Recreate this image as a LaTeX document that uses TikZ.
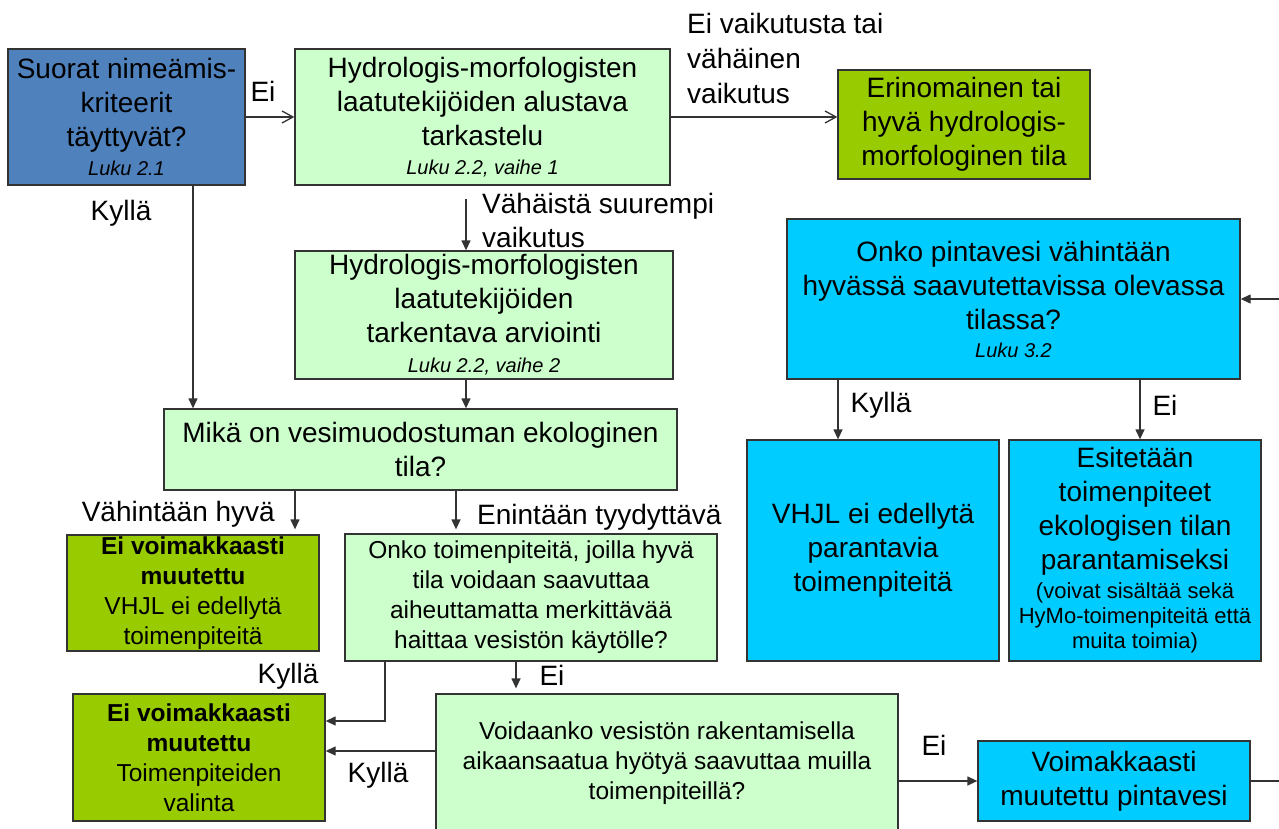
\documentclass[tikz,border=0pt]{standalone}
\usepackage{fontspec}
\setmainfont{Liberation Sans}
\usetikzlibrary{arrows.meta}
\definecolor{bdark}{HTML}{4F81BD}
\definecolor{lgreen}{HTML}{CCFFCC}
\definecolor{ygreen}{HTML}{99CC00}
\definecolor{cyanb}{HTML}{00CCFF}
\definecolor{edgecol}{HTML}{333333}
\newcommand\fbig{\fontsize{28}{34}\selectfont}
\newcommand\fmid{\fontsize{24.5}{30}\selectfont}
\newcommand\fsml{\fontsize{22}{25}\selectfont}
\newcommand\fluku{\fontsize{20}{24}\selectfont\itshape}
\tikzset{
  box/.style={draw=edgecol, line width=1.3pt, inner sep=0pt, align=center, font=\fbig},
  midbox/.style={box, font=\fmid},
  lbl/.style={inner sep=0pt, font=\fbig},
  arr/.style={draw=edgecol, line width=1.3pt, -{Triangle[length=10pt,width=9pt]}},
  oarr/.style={draw=edgecol, line width=1.3pt, -{Straight Barb[length=11pt,width=12pt]}},
  plain/.style={draw=edgecol, line width=1.3pt}
}
\begin{document}
\begin{tikzpicture}[x=1pt,y=-1pt]
\fill[white] (0,0) rectangle (1279,829);
\useasboundingbox (0,0) rectangle (1279,829);

% boxes
\node[box, fill=bdark, minimum width=237pt, minimum height=136pt] (b1) at (126.5,117)
  {Suorat nimeämis-\\kriteerit\\täyttyvät?\\[-5.5pt]{\fluku Luku 2.1}};
\node[box, fill=lgreen, minimum width=375pt, minimum height=136pt] (b2) at (482.5,117)
  {Hydrologis-morfologisten\\laatutekijöiden alustava\\tarkastelu\\[-5.5pt]{\fluku Luku 2.2, vaihe 1}};
\node[box, fill=ygreen, minimum width=252pt, minimum height=109pt] (b3) at (964,124.5)
  {Erinomainen tai\\hyvä hydrologis-\\morfologinen tila};
\node[box, fill=lgreen, minimum width=378pt, minimum height=128pt] (b4) at (484,315)
  {Hydrologis-morfologisten\\laatutekijöiden\\tarkentava arviointi\\[-4pt]{\fluku Luku 2.2, vaihe 2}};
\node[box, fill=lgreen, minimum width=513pt, minimum height=81pt] (b5) at (420.5,449.5)
  {Mikä on vesimuodostuman ekologinen\\tila?};
\node[midbox, fill=ygreen, minimum width=252pt, minimum height=116pt] (b6) at (193,593)
  {\textbf{Ei voimakkaasti}\\\textbf{muutettu}\\VHJL ei edellytä\\toimenpiteitä};
\node[midbox, fill=lgreen, minimum width=372pt, minimum height=127pt] (b7) at (531,597.5)
  {Onko toimenpiteitä, joilla hyvä\\tila voidaan saavuttaa\\aiheuttamatta merkittävää\\haittaa vesistön käytölle?};
\node[midbox, fill=ygreen, minimum width=252pt, minimum height=127pt] (b8) at (199,757.5)
  {\textbf{Ei voimakkaasti}\\\textbf{muutettu}\\Toimenpiteiden\\valinta};
\node[midbox, fill=lgreen, minimum width=462pt, minimum height=138pt] (b9) at (667,763)
  {Voidaanko vesistön rakentamisella\\aikaansaatua hyötyä saavuttaa muilla\\toimenpiteillä?};
\node[box, fill=cyanb, minimum width=453pt, minimum height=160pt] (b10) at (1013.5,299)
  {Onko pintavesi vähintään\\hyvässä saavutettavissa olevassa\\tilassa?\\[-6pt]{\fluku Luku 3.2}};
\node[box, fill=cyanb, minimum width=252pt, minimum height=221pt] (b11) at (873,550.5)
  {VHJL ei edellytä\\parantavia\\toimenpiteitä};
\node[box, fill=cyanb, minimum width=252pt, minimum height=221pt] (b12) at (1135,550.5)
  {Esitetään\\toimenpiteet\\ekologisen tilan\\parantamiseksi\\[-5pt]{\fsml (voivat sisältää sekä}\\[-9pt]{\fsml HyMo-toimenpiteitä että}\\[-9pt]{\fsml muita toimia)}};
\node[box, fill=cyanb, minimum width=272pt, minimum height=80pt] (b13) at (1114,781)
  {Voimakkaasti\\muutettu pintavesi};

% labels
\node[lbl] (l1) at (263,91) {Ei};
\node[lbl] (l2) at (121,213) {Kyllä};
\node[lbl, anchor=west, align=left, font=\fontsize{28}{35}\selectfont] (l3) at (687,58)
  {Ei vaikutusta tai\\vähäinen\\vaikutus};
\node[lbl, anchor=west, align=left] (l4) at (482,220) {Vähäistä suurempi\\vaikutus};
\node[lbl, anchor=east] (l5) at (275,514) {Vähintään hyvä};
\node[lbl, anchor=west] (l6) at (477,517) {Enintään tyydyttävä};
\node[lbl] (l7) at (288,676) {Kyllä};
\node[lbl] (l8) at (552,675) {Ei};
\node[lbl] (l9) at (378,775) {Kyllä};
\node[lbl] (l10) at (934,745) {Ei};
\node[lbl] (l11) at (881,405) {Kyllä};
\node[lbl] (l12) at (1165,405) {Ei};

% reference coordinates
\coordinate (k193) at (193,0);
\coordinate (k466) at (466,0);
\coordinate (k295) at (295,0);
\coordinate (k456) at (456,0);
\coordinate (k385) at (385,0);
\coordinate (k516) at (516,0);
\coordinate (k838) at (838,0);
\coordinate (k1140) at (1140,0);
\coordinate (y721) at (0,721);
\coordinate (y751) at (0,751);
\coordinate (e1) at (1290,781);
\coordinate (e2) at (1290,299);

% connectors
\draw[oarr] (b1) -- (b2);
\draw[oarr] (b2.east) -- (b2.east -| b3.west);
\draw[arr, shorten <=13pt] (k466 |- b2.south) -- (k466 |- b4.north);
\draw[arr] (k193 |- b1.south) -- (k193 |- b5.north);
\draw[arr] (k466 |- b4.south) -- (k466 |- b5.north);
\draw[arr, shorten >=5pt] (k295 |- b5.south) -- (k295 |- b6.north);
\draw[arr, shorten >=4pt] (k456 |- b5.south) -- (k456 |- b7.north);
\draw[arr] (k385 |- b7.south) |- (y721 -| b8.east);
\draw[arr] (y751 -| b9.west) -- (y751 -| b8.east);
\draw[arr, shorten >=5pt] (k516 |- b7.south) -- (k516 |- b9.north);
\draw[arr] (b13.west -| b9.east) -- (b13.west);
\draw[plain] (b13.east) -- (e1);
\draw[arr] (e2) -- (b10.east);
\draw[arr] (k838 |- b10.south) -- (k838 |- b11.north);
\draw[arr] (k1140 |- b10.south) -- (k1140 |- b12.north);
\end{tikzpicture}
\end{document}
